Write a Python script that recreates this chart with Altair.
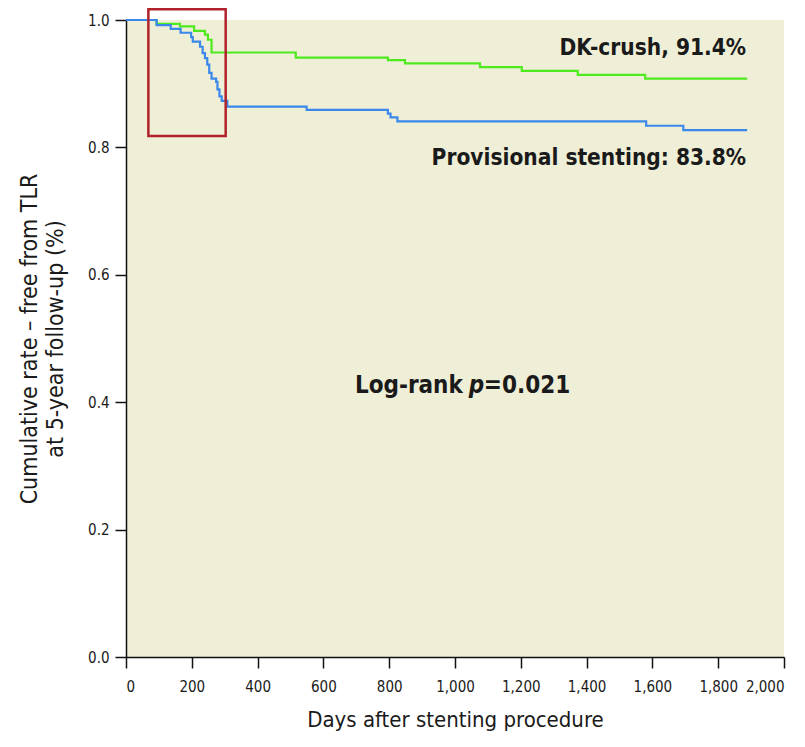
import altair as alt
import pandas as pd

# ---- data ----
dk_days = [0, 93, 164, 207, 240, 249, 260, 516, 796, 848, 1076, 1203, 1373, 1578, 1888]
dk_vals = [1.0, 0.994, 0.990, 0.983, 0.977, 0.969, 0.949, 0.941, 0.937, 0.932, 0.926, 0.920, 0.914, 0.908, 0.908]

ps_days = [0, 93, 136, 166, 198, 203, 225, 233, 240, 247, 253, 260, 274, 278, 284, 291, 308,
           549, 796, 804, 825, 1581, 1694, 1888]
ps_vals = [1.0, 0.992, 0.986, 0.980, 0.973, 0.966, 0.958, 0.948, 0.940, 0.930, 0.917, 0.908,
           0.903, 0.891, 0.880, 0.873, 0.864, 0.859, 0.853, 0.847, 0.841, 0.834, 0.827, 0.827]

series_names = ["DK-crush", "Provisional stenting"]
series_colors = ["#4EEA1E", "#3A88EA"]

x_ticks = [0, 200, 400, 600, 800, 1000, 1200, 1400, 1600, 1800, 2000]
y_ticks = [0.0, 0.2, 0.4, 0.6, 0.8, 1.0]

box_x = [68]
box_x2 = [303]
box_y = [0.818]
box_y2 = [1.017]

label_texts = ["DK-crush, 91.4%", "Provisional stenting: 83.8%"]
label_x = [1885, 1885]
label_y = [0.956, 0.784]

pval_x = [1033]
pval_y = [0.425]

FONT = "DejaVu Sans Condensed"

curves = pd.concat([
    pd.DataFrame({"day": dk_days, "rate": dk_vals, "group": series_names[0]}),
    pd.DataFrame({"day": ps_days, "rate": ps_vals, "group": series_names[1]}),
])

xscale = alt.Scale(domain=[0, 2000], nice=False, zero=False)
yscale = alt.Scale(domain=[0, 1], nice=False)

lines = alt.Chart(curves).mark_line(interpolate="step-after", strokeWidth=2.2).encode(
    x=alt.X("day:Q", scale=xscale,
            axis=alt.Axis(values=x_ticks, format=",.0f", title="Days after stenting procedure",
                          titlePadding=15, titleFontSize=22, labelOverlap=False, labelPadding=11)),
    y=alt.Y("rate:Q", scale=yscale,
            axis=alt.Axis(values=y_ticks, format=".1f",
                          title=["Cumulative rate \u2013 free from TLR", "at 5-year follow-up (%)"],
                          titlePadding=20, titleFontSize=23)),
    color=alt.Color("group:N", scale=alt.Scale(domain=series_names, range=series_colors), legend=None),
    order=alt.Order("day:Q"),
)

box = alt.Chart(pd.DataFrame({"x": box_x, "x2": box_x2, "y": box_y, "y2": box_y2})).mark_rect(
    filled=False, stroke="#B0232A", strokeWidth=2.5, clip=False
).encode(x="x:Q", x2="x2:Q", y="y:Q", y2="y2:Q")

labels = alt.Chart(pd.DataFrame({"t": label_texts, "x": label_x, "y": label_y})).mark_text(
    align="right", baseline="middle", font=FONT, fontWeight="bold", fontSize=22.5, color="#1a1a1a"
).encode(x="x:Q", y="y:Q", text="t:N")

pdf = pd.DataFrame({"x": pval_x, "y": pval_y})
p1 = alt.Chart(pdf).mark_text(align="right", baseline="middle", font=FONT, fontWeight="bold",
                              fontSize=24, color="#1a1a1a", text="Log-rank", dx=-3).encode(x="x:Q", y="y:Q")
p2 = alt.Chart(pdf).mark_text(align="left", baseline="middle", font=FONT, fontWeight="bold",
                              fontStyle="italic", fontSize=24, color="#1a1a1a", text="p", dx=3).encode(x="x:Q", y="y:Q")
p3 = alt.Chart(pdf).mark_text(align="left", baseline="middle", font=FONT, fontWeight="bold",
                              fontSize=24, color="#1a1a1a", text="=0.021", dx=18).encode(x="x:Q", y="y:Q")

chart = alt.layer(lines, box, labels, p1, p2, p3).properties(
    width=658, height=637,
    autosize=alt.AutoSizeParams(type="none"),
    padding={"left": 118, "top": 12, "right": 13, "bottom": 82},
    background="white",
).configure_view(fill="#EFEED6", stroke=None).configure_axis(
    grid=False, domainColor="#111111", domainWidth=1.5, tickColor="#111111", tickWidth=1.5,
    tickSize=11, labelFont=FONT, labelFontSize=15, labelColor="#1a1a1a", labelPadding=6,
    titleFont=FONT, titleFontWeight="normal", titleColor="#1a1a1a",
    titleLineHeight=26,
)

chart.save("out.html", embed_options={"renderer": "svg", "actions": False})
